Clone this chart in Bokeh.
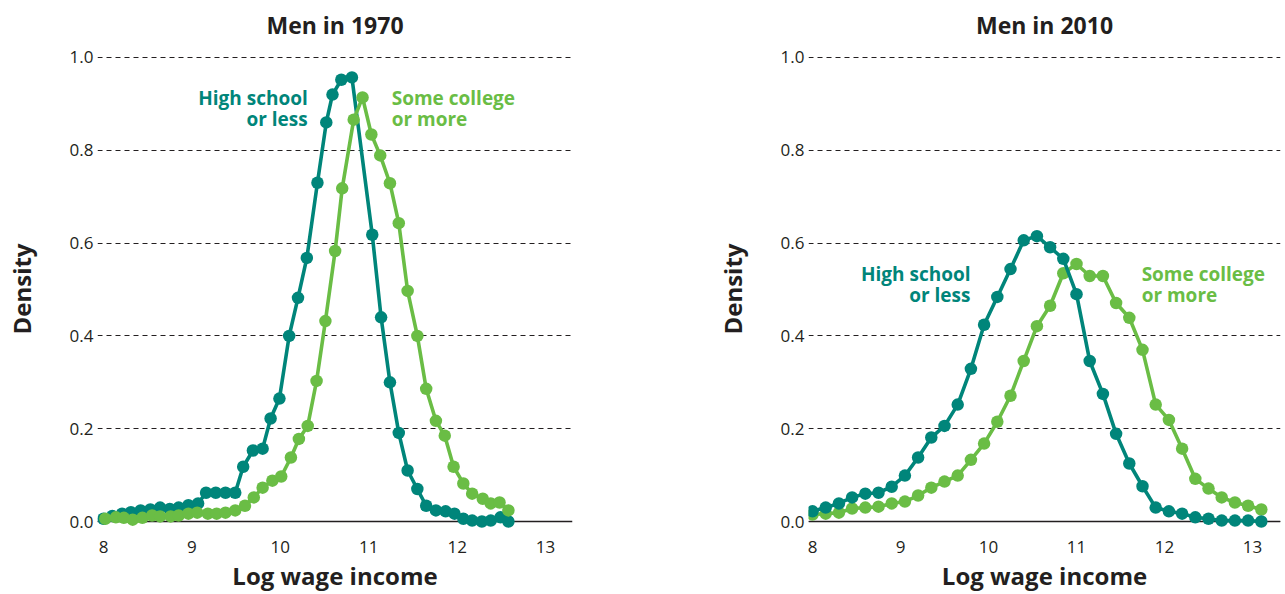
from bokeh.plotting import figure
from bokeh.layouts import row
from bokeh.models import FixedTicker, PrintfTickFormatter, Span, Label, Range1d
from bokeh.embed import file_html
from bokeh.resources import INLINE

# ---------------- data ----------------
titles = ["Men in 1970", "Men in 2010"]
x_ticks = [8, 9, 10, 11, 12, 13]
y_ticks = [0.0, 0.2, 0.4, 0.6, 0.8, 1.0]
series_names = ["High school\nor less", "Some college\nor more"]

hs70_x = [8.00, 8.10, 8.21, 8.31, 8.42, 8.53, 8.64, 8.75, 8.85, 8.96,
          9.07, 9.16, 9.27, 9.38, 9.49, 9.58, 9.69, 9.80, 9.89, 9.99,
          10.10, 10.20, 10.30, 10.42, 10.52, 10.59, 10.69, 10.81, 11.04, 11.14,
          11.24, 11.34, 11.44, 11.55, 11.65, 11.76, 11.87, 11.97, 12.07, 12.17,
          12.28, 12.38, 12.49, 12.58]
hs70_y = [0.006, 0.012, 0.017, 0.020, 0.024, 0.026, 0.030, 0.027, 0.030, 0.035,
          0.039, 0.062, 0.062, 0.062, 0.062, 0.118, 0.153, 0.157, 0.222, 0.265,
          0.400, 0.482, 0.568, 0.730, 0.860, 0.920, 0.952, 0.957, 0.618, 0.440,
          0.300, 0.191, 0.110, 0.070, 0.034, 0.024, 0.022, 0.017, 0.006, 0.002,
          0.000, 0.002, 0.009, 0.000]

sc70_x = [8.02, 8.14, 8.23, 8.33, 8.44, 8.55, 8.64, 8.76, 8.85, 8.96,
          9.06, 9.18, 9.28, 9.38, 9.49, 9.60, 9.70, 9.80, 9.91, 10.01,
          10.12, 10.21, 10.31, 10.41, 10.51, 10.62, 10.70, 10.83, 10.93, 11.03,
          11.13, 11.24, 11.34, 11.44, 11.55, 11.65, 11.76, 11.86, 11.96, 12.07,
          12.17, 12.29, 12.38, 12.48, 12.58]
sc70_y = [0.006, 0.009, 0.008, 0.004, 0.008, 0.013, 0.011, 0.011, 0.013, 0.017,
          0.019, 0.017, 0.017, 0.019, 0.024, 0.034, 0.052, 0.073, 0.088, 0.097,
          0.138, 0.178, 0.206, 0.303, 0.432, 0.583, 0.718, 0.866, 0.914, 0.834,
          0.789, 0.729, 0.643, 0.497, 0.400, 0.286, 0.217, 0.185, 0.118, 0.082,
          0.060, 0.049, 0.039, 0.041, 0.024]

x10 = [8.00, 8.15, 8.30, 8.45, 8.60, 8.75, 8.90, 9.05, 9.20, 9.35,
       9.50, 9.65, 9.80, 9.95, 10.10, 10.25, 10.40, 10.55, 10.70, 10.85,
       11.00, 11.15, 11.30, 11.45, 11.60, 11.75, 11.90, 12.05, 12.20, 12.35,
       12.50, 12.65, 12.80, 12.95, 13.10]
hs10_y = [0.022, 0.030, 0.039, 0.052, 0.060, 0.062, 0.075, 0.099, 0.138, 0.181,
          0.206, 0.252, 0.329, 0.424, 0.484, 0.544, 0.606, 0.615, 0.591, 0.566,
          0.490, 0.346, 0.275, 0.189, 0.125, 0.076, 0.030, 0.022, 0.017, 0.009,
          0.006, 0.002, 0.002, 0.002, 0.000]
sc10_y = [0.015, 0.017, 0.019, 0.028, 0.030, 0.032, 0.039, 0.043, 0.056, 0.073,
          0.086, 0.099, 0.133, 0.168, 0.215, 0.271, 0.346, 0.421, 0.465, 0.535,
          0.555, 0.529, 0.529, 0.471, 0.439, 0.370, 0.252, 0.219, 0.157, 0.092,
          0.071, 0.052, 0.041, 0.034, 0.026]

# label anchor positions (data units)
lab70 = {"hs": (10.31, 0.912), "sc": (11.26, 0.912)}
lab10 = {"hs": (9.795, 0.533), "sc": (11.74, 0.533)}

TEAL = "#00857a"
GREEN = "#6abd45"
INK = "#231f20"
FONT = "Open Sans"


def panel(title, width, border_left, border_right, x_start, x_end,
          hs_x, hs_y, sc_x, sc_y, labs, green_on_top):
    p = figure(width=width, height=594, output_backend="svg",
               toolbar_location=None, title=title,
               x_range=Range1d(x_start, x_end), y_range=Range1d(-0.01935, 1.0215),
               min_border_left=border_left, min_border_right=border_right,
               min_border_top=46, min_border_bottom=64)
    p.outline_line_color = None
    p.background_fill_color = "white"
    p.border_fill_color = "white"

    p.title.align = "center"
    p.title.text_font = FONT
    p.title.text_font_size = "23px"
    p.title.text_font_style = "bold"
    p.title.text_color = INK
    p.title.standoff = 13

    p.xgrid.visible = False
    p.ygrid.grid_line_color = INK
    p.ygrid.grid_line_dash = "5 4"
    p.ygrid.grid_line_width = 1

    for ax in (p.xaxis[0], p.yaxis[0]):
        ax.axis_line_color = None
        ax.major_tick_line_color = None
        ax.minor_tick_line_color = None
        ax.major_tick_out = 0
        ax.major_tick_in = 0
        ax.minor_tick_out = 0
        ax.minor_tick_in = 0
        ax.major_label_text_font = FONT
        ax.major_label_text_font_size = "17px"
        ax.major_label_text_color = INK
        ax.axis_label_text_font = FONT
        ax.axis_label_text_font_size = "24px"
        ax.axis_label_text_font_style = "bold"
        ax.axis_label_text_color = INK

    p.xaxis.ticker = FixedTicker(ticks=x_ticks)
    p.yaxis.ticker = FixedTicker(ticks=y_ticks)
    p.yaxis.formatter = PrintfTickFormatter(format="%.1f")
    p.xaxis.axis_label = "Log wage income"
    p.yaxis.axis_label = "Density"
    p.xaxis.major_label_standoff = 10
    p.xaxis.axis_label_standoff = 3
    p.yaxis.major_label_standoff = 4
    p.yaxis.axis_label_standoff = 29

    base = Span(location=0, dimension="width", line_color=INK, line_width=1.6,
                level="underlay")
    p.add_layout(base)

    def draw(xs, ys, color):
        p.line(xs, ys, line_color=color, line_width=3.6)
        p.scatter(xs, ys, size=12.5, fill_color=color, line_color=None)

    if green_on_top:
        draw(hs_x, hs_y, TEAL)
        draw(sc_x, sc_y, GREEN)
    else:
        draw(sc_x, sc_y, GREEN)
        draw(hs_x, hs_y, TEAL)

    hs_lines = series_names[0].split("\n")
    sc_lines = series_names[1].split("\n")
    for i, (a, b) in enumerate(zip(hs_lines, sc_lines)):
        p.add_layout(Label(x=labs["hs"][0], y=labs["hs"][1], y_offset=-21 * i,
                           text=a, text_align="right", text_baseline="middle",
                           text_font=FONT, text_font_size="19px",
                           text_font_style="bold", text_color=TEAL))
        p.add_layout(Label(x=labs["sc"][0], y=labs["sc"][1], y_offset=-21 * i,
                           text=b, text_align="left", text_baseline="middle",
                           text_font=FONT, text_font_size="19px",
                           text_font_style="bold", text_color=GREEN))
    return p


p1 = panel(titles[0], 640, 97, 68, 7.932, 13.305,
           hs70_x, hs70_y, sc70_x, sc70_y, lab70, True)
p2 = panel(titles[1], 645, 168, 5, 7.9545, 13.318,
           x10, hs10_y, x10, sc10_y, lab10, False)

layout = row(p1, p2)
open("out.html", "w").write(file_html(layout, INLINE))
